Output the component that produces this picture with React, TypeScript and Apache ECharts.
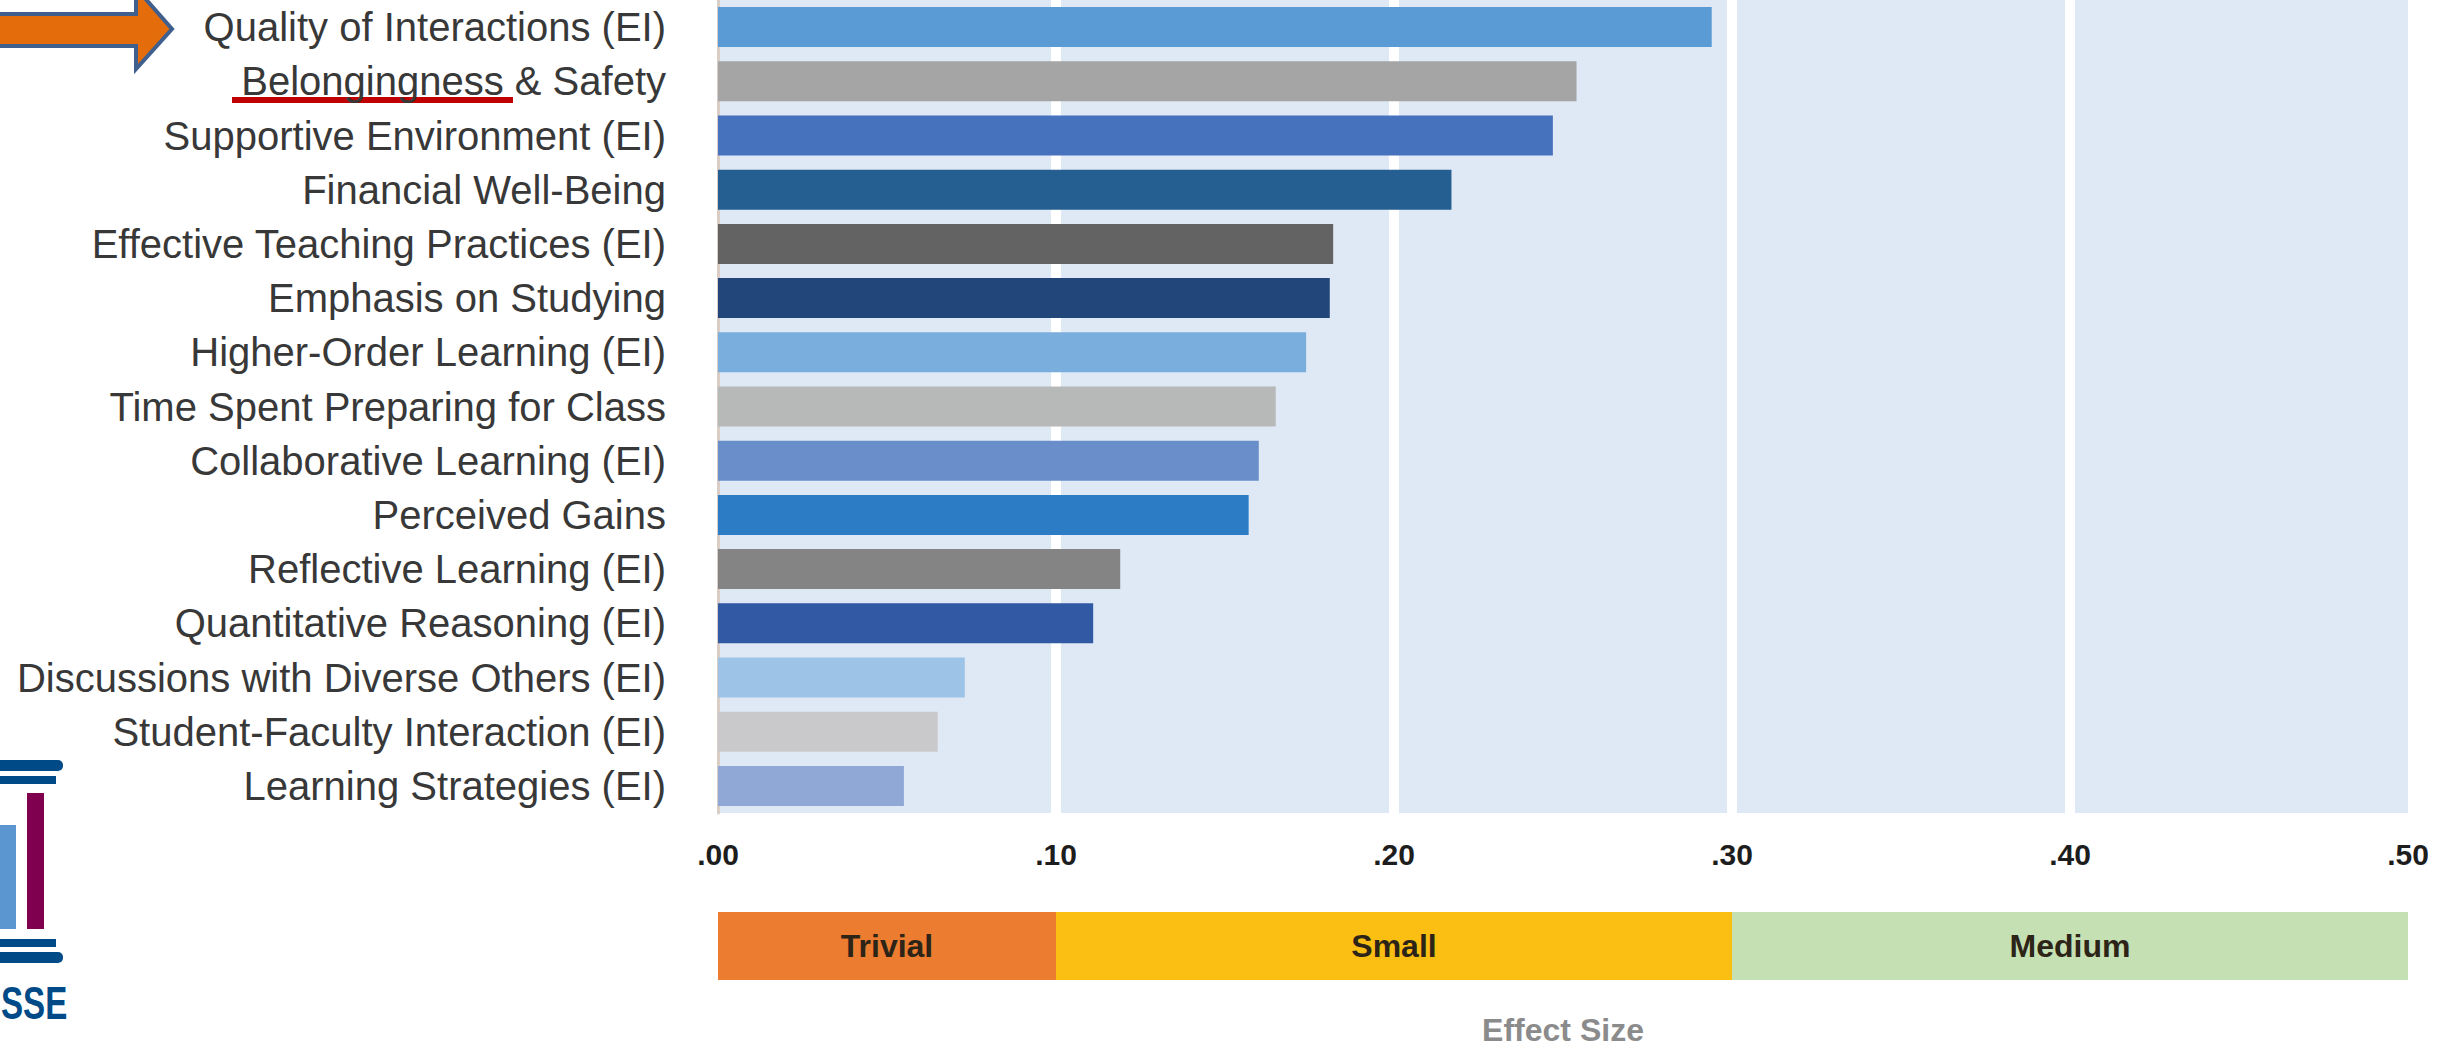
import React, { useEffect, useRef } from "react";
import * as echarts from "echarts";

// Engagement indicators ranked by effect size
const categories = [
  "Quality of Interactions (EI)",
  "Belongingness & Safety",
  "Supportive Environment (EI)",
  "Financial Well-Being",
  "Effective Teaching Practices (EI)",
  "Emphasis on Studying",
  "Higher-Order Learning (EI)",
  "Time Spent Preparing for Class",
  "Collaborative Learning (EI)",
  "Perceived Gains",
  "Reflective Learning (EI)",
  "Quantitative Reasoning (EI)",
  "Discussions with Diverse Others (EI)",
  "Student-Faculty Interaction (EI)",
  "Learning Strategies (EI)",
];

const effectSizes = [
  0.294, 0.254, 0.247, 0.217, 0.182, 0.181, 0.174, 0.165, 0.16, 0.157, 0.119,
  0.111, 0.073, 0.065, 0.055,
];

const barColors = [
  "#5B9BD5",
  "#A5A5A5",
  "#4671BD",
  "#255E91",
  "#636363",
  "#22467A",
  "#7AAEDD",
  "#B7B8B8",
  "#698ECA",
  "#2B7CC4",
  "#848484",
  "#3259A3",
  "#9DC3E6",
  "#C9C9CB",
  "#8FA8D6",
];

const tickLabels = [".00", ".10", ".20", ".30", ".40", ".50"];

// Effect size magnitude bands shown under the axis
const bandNames = ["Trivial", "Small", "Medium"];
const bandStarts = [0, 0.1, 0.3];
const bandEnds = [0.1, 0.3, 0.5];
const bandColors = ["#EC7C30", "#FBBF14", "#C5E0B3"];

const LABEL_FONT = "'Liberation Sans', Arial, sans-serif";

export default function App() {
  const ref = useRef<HTMLDivElement>(null);

  useEffect(() => {
    if (!ref.current) return;
    const chart = echarts.init(ref.current, null, { renderer: "svg" });

    const option: any = {
      animation: false,
      backgroundColor: "#ffffff",
      grid: [
        {
          left: 718,
          right: 32,
          top: 0,
          height: 813,
          show: true,
          backgroundColor: "#DEE9F5",
          borderWidth: 0,
        },
        { left: 718, right: 32, top: 912, height: 70 },
      ],
      xAxis: [
        {
          gridIndex: 0,
          type: "value",
          min: 0,
          max: 0.5,
          interval: 0.1,
          axisLine: { show: false },
          axisTick: { show: false },
          splitLine: {
            show: true,
            showMinLine: false,
            showMaxLine: false,
            lineStyle: { color: "#ffffff", width: 10 },
          },
          axisLabel: {
            formatter: (v: number) => tickLabels[Math.round(v * 10)],
            fontSize: 30,
            fontWeight: "bold",
            fontFamily: LABEL_FONT,
            color: "#1d1d1d",
            margin: 26,
          },
        },
        {
          gridIndex: 1,
          type: "value",
          min: 0,
          max: 0.5,
          axisLine: { show: false },
          axisTick: { show: false },
          axisLabel: { show: false },
          splitLine: { show: false },
          name: "Effect Size",
          nameLocation: "middle",
          nameGap: 34,
          nameTextStyle: {
            fontSize: 32,
            fontWeight: "bold",
            fontFamily: LABEL_FONT,
            color: "#8b8b8b",
          },
        },
      ],
      yAxis: [
        {
          gridIndex: 0,
          type: "category",
          data: categories,
          inverse: true,
          axisLine: { show: true, lineStyle: { color: "#D9CDC6", width: 3 } },
          axisTick: { show: false },
          splitLine: { show: false },
          axisLabel: {
            fontSize: 40,
            fontFamily: LABEL_FONT,
            color: "#383838",
            margin: 52,
          },
        },
        {
          gridIndex: 1,
          type: "category",
          data: ["band"],
          show: false,
        },
      ],
      series: [
        {
          type: "bar",
          xAxisIndex: 0,
          yAxisIndex: 0,
          barWidth: 40,
          data: effectSizes.map((v, i) => ({
            value: v,
            itemStyle: { color: barColors[i] },
          })),
        },
        {
          type: "custom",
          xAxisIndex: 1,
          yAxisIndex: 1,
          data: bandNames.map((n, i) => [bandStarts[i], bandEnds[i], 0]),
          encode: { x: [0, 1], y: 2 },
          renderItem: (params: any, api: any) => {
            const start = api.coord([api.value(0), 0]);
            const end = api.coord([api.value(1), 0]);
            const cs = params.coordSys;
            return {
              type: "group",
              children: [
                {
                  type: "rect",
                  shape: {
                    x: start[0],
                    y: cs.y,
                    width: end[0] - start[0],
                    height: cs.height,
                  },
                  style: { fill: bandColors[params.dataIndex] },
                },
                {
                  type: "text",
                  style: {
                    text: bandNames[params.dataIndex],
                    x: (start[0] + end[0]) / 2,
                    y: cs.y + cs.height / 2,
                    align: "center",
                    verticalAlign: "middle",
                    fontSize: 32,
                    fontWeight: "bold",
                    fontFamily: LABEL_FONT,
                    fill: "#2d2418",
                  },
                },
              ],
            };
          },
        },
      ],
      graphic: [
        // pointer arrow
        {
          type: "polygon",
          shape: {
            points: [
              [-6, 14],
              [136, 14],
              [136, -12],
              [172, 29],
              [136, 69],
              [136, 46],
              [-6, 46],
            ],
          },
          style: { fill: "#E46C0A", stroke: "#3F5F8F", lineWidth: 4 },
        },
        // underline
        {
          type: "rect",
          shape: { x: 232, y: 97, width: 281, height: 6 },
          style: { fill: "#C00000" },
        },
        // logo
        {
          type: "rect",
          shape: { x: -10, y: 760, width: 73, height: 11, r: [0, 5, 5, 0] },
          style: { fill: "#004A87" },
        },
        {
          type: "rect",
          shape: { x: -10, y: 776, width: 66, height: 8 },
          style: { fill: "#004A87" },
        },
        {
          type: "rect",
          shape: { x: -10, y: 825, width: 26, height: 104 },
          style: { fill: "#5B96D0" },
        },
        {
          type: "rect",
          shape: { x: 27, y: 793, width: 17, height: 136 },
          style: { fill: "#800050" },
        },
        {
          type: "rect",
          shape: { x: -10, y: 939, width: 66, height: 8 },
          style: { fill: "#004A87" },
        },
        {
          type: "rect",
          shape: { x: -10, y: 952, width: 73, height: 11, r: [0, 5, 5, 0] },
          style: { fill: "#004A87" },
        },
        {
          type: "text",
          x: 1,
          y: 1003,
          scaleX: 0.72,
          style: {
            text: "SSE",
            fontSize: 46,
            fontWeight: "bold",
            fontFamily: LABEL_FONT,
            fill: "#004A87",
            verticalAlign: "middle",
            align: "left",
          },
        },
      ],
    };

    chart.setOption(option);
    return () => chart.dispose();
  }, []);

  return (
    <div
      ref={ref}
      style={{ position: "fixed", left: 0, top: 0, width: 2440, height: 1047 }}
    />
  );
}
